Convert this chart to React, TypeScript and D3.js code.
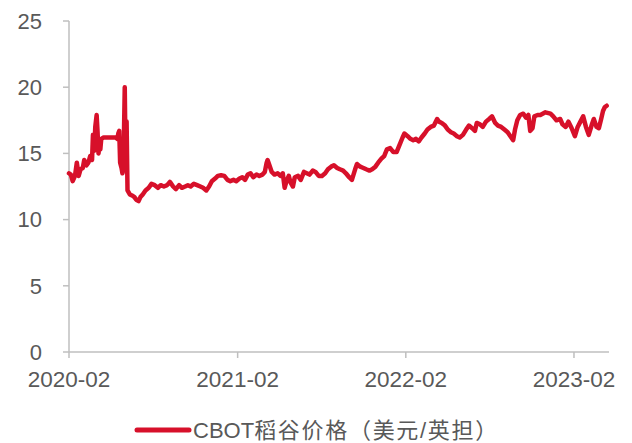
import * as d3 from "d3";

const dates = [
  "2020-02-01", "2020-02-05", "2020-02-09", "2020-02-14", "2020-02-18", "2020-02-22", "2020-02-26",
  "2020-03-02", "2020-03-05", "2020-03-10", "2020-03-14", "2020-03-18", "2020-03-22", "2020-03-24",
  "2020-03-27", "2020-03-29", "2020-04-01", "2020-04-03", "2020-04-05", "2020-04-07", "2020-04-09",
  "2020-04-11", "2020-04-16", "2020-04-29", "2020-05-12", "2020-05-16", "2020-05-18", "2020-05-20",
  "2020-05-22", "2020-05-25", "2020-05-27", "2020-05-29", "2020-06-01", "2020-06-03", "2020-06-05",
  "2020-06-07", "2020-06-12", "2020-06-18", "2020-06-22", "2020-06-26", "2020-07-01", "2020-07-05",
  "2020-07-10", "2020-07-16", "2020-07-23", "2020-07-29", "2020-08-05", "2020-08-12", "2020-08-18",
  "2020-08-25", "2020-09-01", "2020-09-07", "2020-09-14", "2020-09-20", "2020-09-27", "2020-10-03",
  "2020-10-10", "2020-10-16", "2020-10-22", "2020-10-29", "2020-11-05", "2020-11-12", "2020-11-18",
  "2020-11-25", "2020-12-01", "2020-12-07", "2020-12-14", "2020-12-20", "2020-12-27", "2021-01-03",
  "2021-01-10", "2021-01-16", "2021-01-23", "2021-01-29", "2021-02-05", "2021-02-11", "2021-02-17",
  "2021-02-23", "2021-03-01", "2021-03-07", "2021-03-14", "2021-03-20", "2021-03-27", "2021-04-01",
  "2021-04-05", "2021-04-07", "2021-04-11", "2021-04-16", "2021-04-22", "2021-04-29", "2021-05-05",
  "2021-05-10", "2021-05-14", "2021-05-18", "2021-05-23", "2021-05-27", "2021-06-01", "2021-06-05",
  "2021-06-12", "2021-06-18", "2021-06-25", "2021-07-01", "2021-07-07", "2021-07-14", "2021-07-20",
  "2021-07-27", "2021-08-03", "2021-08-10", "2021-08-16", "2021-08-23", "2021-08-29", "2021-09-05",
  "2021-09-11", "2021-09-18", "2021-09-24", "2021-10-01", "2021-10-07", "2021-10-14", "2021-10-18",
  "2021-10-25", "2021-11-01", "2021-11-07", "2021-11-14", "2021-11-20", "2021-11-27", "2021-12-03",
  "2021-12-10", "2021-12-16", "2021-12-22", "2021-12-29", "2022-01-05", "2022-01-12", "2022-01-18",
  "2022-01-25", "2022-01-29", "2022-02-05", "2022-02-11", "2022-02-17", "2022-02-23", "2022-03-01",
  "2022-03-07", "2022-03-14", "2022-03-20", "2022-03-27", "2022-04-03", "2022-04-10", "2022-04-14",
  "2022-04-20", "2022-04-27", "2022-05-03", "2022-05-10", "2022-05-16", "2022-05-23", "2022-05-29",
  "2022-06-05", "2022-06-12", "2022-06-18", "2022-06-25", "2022-07-01", "2022-07-05", "2022-07-12",
  "2022-07-18", "2022-07-25", "2022-08-01", "2022-08-07", "2022-08-14", "2022-08-20", "2022-08-27",
  "2022-09-03", "2022-09-10", "2022-09-16", "2022-09-22", "2022-09-26", "2022-10-01", "2022-10-07",
  "2022-10-14", "2022-10-20", "2022-10-25", "2022-10-29", "2022-11-03", "2022-11-07", "2022-11-14",
  "2022-11-20", "2022-12-01", "2022-12-12", "2022-12-18", "2022-12-25", "2023-01-02", "2023-01-07",
  "2023-01-14", "2023-01-20", "2023-01-27", "2023-02-03", "2023-02-09", "2023-02-15", "2023-02-21",
  "2023-02-27", "2023-03-05", "2023-03-12", "2023-03-16", "2023-03-22", "2023-03-27", "2023-04-01",
  "2023-04-05", "2023-04-09", "2023-04-13",
];

// CBOT rough rice, USD per cwt
const prices = [
  13.5, 13.4, 12.9, 13.3, 14.3, 13.3, 13.8,
  13.9, 14.5, 14.1, 14.3, 14.8, 14.5, 16.4,
  15.2, 17.0, 17.9, 16.6, 15.0, 15.5, 15.3,
  16.1, 16.2, 16.2, 16.2, 16.1, 16.5, 16.7,
  14.3, 13.9, 13.5, 13.8, 20.0, 14.0, 17.4,
  12.2, 11.9, 11.8, 11.7, 11.5, 11.4, 11.7,
  11.9, 12.2, 12.4, 12.7, 12.6, 12.4, 12.6,
  12.5, 12.6, 12.85, 12.5, 12.3, 12.6, 12.4,
  12.5, 12.6, 12.5, 12.7, 12.6, 12.5, 12.4,
  12.2, 12.5, 12.9, 13.1, 13.3, 13.35, 13.3,
  13.0, 12.9, 13.0, 12.9, 13.1, 13.2, 13.0,
  13.4, 13.5, 13.2, 13.4, 13.3, 13.4, 13.6,
  14.3, 14.5, 14.1, 13.6, 13.4, 13.5, 13.3,
  13.5, 12.4, 12.9, 13.3, 12.8, 12.5, 13.2,
  13.3, 13.0, 13.6, 13.5, 13.4, 13.7, 13.6,
  13.3, 13.3, 13.5, 13.8, 14.0, 14.1, 13.9,
  13.8, 13.7, 13.5, 13.2, 13.0, 13.8, 14.2,
  14.0, 13.9, 13.8, 13.7, 13.8, 14.0, 14.3,
  14.6, 14.8, 15.3, 15.4, 15.1, 15.1, 15.6,
  16.2, 16.5, 16.3, 16.1, 16.0, 16.1, 15.9,
  16.2, 16.5, 16.8, 17.0, 17.1, 17.6, 17.4,
  17.3, 17.1, 16.8, 16.6, 16.5, 16.3, 16.2,
  16.4, 16.8, 17.1, 16.9, 16.7, 17.3, 17.2,
  17.0, 17.4, 17.6, 17.8, 17.3, 17.1, 17.0,
  16.8, 16.6, 16.3, 16.0, 16.8, 17.5, 17.9,
  18.0, 17.7, 17.9, 16.7, 16.9, 17.8, 17.9,
  17.9, 18.1, 18.0, 17.8, 17.5, 17.6, 17.2,
  17.0, 17.4, 16.9, 16.3, 17.0, 17.4, 17.8,
  17.0, 16.4, 17.2, 17.6, 17.0, 16.9, 17.6,
  18.2, 18.5, 18.6,
];

const xTickLabels = ["2020-02", "2021-02", "2022-02", "2023-02"];
const yTicks = [0, 5, 10, 15, 20, 25];
const seriesPrefix = "CBOT";
const seriesRest = "稻谷价格（美元/英担）";

const W = 632;
const H = 443;
const left = 69;
const right = 609;
const top = 21;
const bottom = 352;
const red = "#d7102a";
const grey = "#595959";
const axisGrey = "#bfbfbf";
const font = "'Liberation Sans', Arial, 'Noto Sans CJK SC', sans-serif";

const parseDay = d3.timeParse("%Y-%m-%d");
const parseMonth = d3.timeParse("%Y-%m");

export default function App() {
  const points = dates.map((d, i) => ({ date: parseDay(d) as Date, value: prices[i] }));

  const x = d3
    .scaleTime()
    .domain([parseDay("2020-02-01") as Date, parseDay("2023-04-18") as Date])
    .range([left, right]);
  const y = d3.scaleLinear().domain([0, 25]).range([bottom, top]);

  const line = d3
    .line<{ date: Date; value: number }>()
    .x((d) => x(d.date))
    .y((d) => y(d.value));

  return (
    <>
      <style>{"body{margin:0}"}</style>
      <svg width={W} height={H} style={{ display: "block", fontFamily: font }}>
        {/* y axis */}
        <line x1={left} x2={left} y1={top} y2={bottom} stroke={axisGrey} strokeWidth={1.5} />
        {yTicks.map((t) => (
          <g key={t}>
            <line x1={left - 6} x2={left} y1={y(t)} y2={y(t)} stroke={axisGrey} strokeWidth={1.5} />
            <text x={42} y={y(t)} dy="0.35em" textAnchor="end" fontSize={22} fill={grey}>
              {t}
            </text>
          </g>
        ))}

        {/* x axis */}
        <line x1={left} x2={right} y1={bottom} y2={bottom} stroke={axisGrey} strokeWidth={1.5} />
        {xTickLabels.map((lab) => {
          const px = x(parseMonth(lab) as Date);
          return (
            <g key={lab}>
              <line x1={px} x2={px} y1={bottom} y2={bottom + 6} stroke={axisGrey} strokeWidth={1.5} />
              <text x={px} y={387} textAnchor="middle" fontSize={22.5} fill={grey}>
                {lab}
              </text>
            </g>
          );
        })}

        <path
          d={line(points) ?? ""}
          fill="none"
          stroke={red}
          strokeWidth={4.5}
          strokeLinejoin="round"
          strokeLinecap="round"
        />

        {/* legend */}
        <line x1={137} x2={189} y1={430} y2={430} stroke={red} strokeWidth={5} strokeLinecap="round" />
        <text x={193} y={438} fontSize={22} fill={grey}>
          <tspan>{seriesPrefix}</tspan>
          <tspan letterSpacing={1.7}>{seriesRest}</tspan>
        </text>
      </svg>
    </>
  );
}
